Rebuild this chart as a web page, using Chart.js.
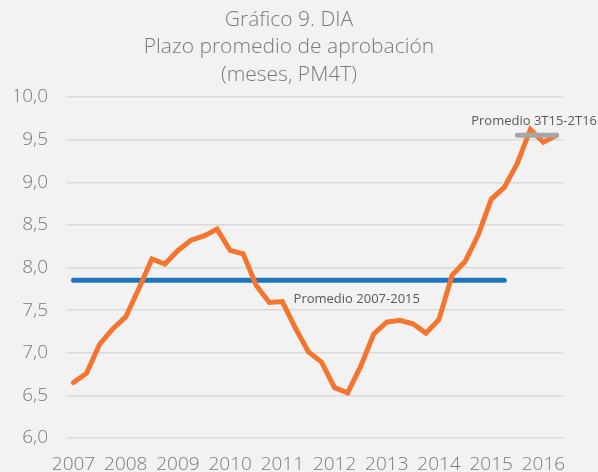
<!DOCTYPE html>
<html>
<head>
<meta charset="utf-8">
<script src="https://cdn.jsdelivr.net/npm/chart.js@4"></script>
<style>
  html, body { margin: 0; padding: 0; background: #f2f2f2; overflow: hidden; }
  #grafico { display: block; }
</style>
</head>
<body>
<canvas id="grafico" width="598" height="472"></canvas>
<script>
const TRIMESTRES = [
    '2007T1', '2007T2', '2007T3', '2007T4',
    '2008T1', '2008T2', '2008T3', '2008T4',
    '2009T1', '2009T2', '2009T3', '2009T4',
    '2010T1', '2010T2', '2010T3', '2010T4',
    '2011T1', '2011T2', '2011T3', '2011T4',
    '2012T1', '2012T2', '2012T3', '2012T4',
    '2013T1', '2013T2', '2013T3', '2013T4',
    '2014T1', '2014T2', '2014T3', '2014T4',
    '2015T1', '2015T2', '2015T3', '2015T4',
    '2016T1', '2016T2'
];

// plazo promedio de aprobación, meses (PM4T)
const PLAZO_PROMEDIO = [
    6.65, 6.76, 7.10, 7.28,
    7.42, 7.75, 8.10, 8.04,
    8.20, 8.32, 8.37, 8.45,
    8.20, 8.16, 7.79, 7.59,
    7.60, 7.29, 7.01, 6.89,
    6.59, 6.53, 6.84, 7.22,
    7.36, 7.38, 7.34, 7.23,
    7.39, 7.91, 8.07, 8.38,
    8.80, 8.94, 9.22, 9.62,
    9.47, 9.55
];

const PROMEDIO_2007_2015 = 7.85;
const TRAMO_2007_2015 = ['2007T1', '2015T2'];
const PROMEDIO_3T15_2T16 = 9.55;
const TRAMO_3T15_2T16 = ['2015T3', '2016T2'];

const Y_MIN = 6;
const Y_MAX = 10;
const Y_PASO = 0.5;

const TITULO = ['Gráfico 9. DIA', 'Plazo promedio de aprobación', '(meses, PM4T)'];

const COLOR_TEXTO = '#7a7a7a';
const COLOR_ETIQUETA = '#595959';

// etiquetas de los promedios, ubicadas con las escalas
const etiquetasPromedio = {
    id: 'etiquetasPromedio',
    afterDatasetsDraw(chart) {
        const { ctx, scales: { x, y } } = chart;
        ctx.save();
        ctx.font = '13px "Open Sans"';
        ctx.fillStyle = COLOR_ETIQUETA;
        ctx.textBaseline = 'middle';

        ctx.textAlign = 'center';
        ctx.fillText('Promedio 2007-2015', x.getPixelForValue(21.7), y.getPixelForValue(PROMEDIO_2007_2015) + 19);

        ctx.textAlign = 'right';
        ctx.fillText('Promedio 3T15-2T16', chart.width - 1, y.getPixelForValue(PROMEDIO_3T15_2T16) - 14);
        ctx.restore();
    }
};

new Chart(document.getElementById('grafico'), {
    type: 'line',
    data: {
        labels: TRIMESTRES,
        datasets: [
            {
                data: PLAZO_PROMEDIO,
                borderColor: '#f4762e',
                borderWidth: 5,
                pointRadius: 0,
                tension: 0,
                borderCapStyle: 'round',
                order: 1
            },
            {
                data: TRAMO_2007_2015.map(t => ({ x: t, y: PROMEDIO_2007_2015 })),
                borderColor: '#1f74c0',
                borderWidth: 5,
                pointRadius: 0,
                borderCapStyle: 'round',
                order: 2
            },
            {
                data: TRAMO_3T15_2T16.map(t => ({ x: t, y: PROMEDIO_3T15_2T16 })),
                borderColor: '#a6a6a6',
                borderWidth: 5,
                pointRadius: 0,
                borderCapStyle: 'round',
                order: 0
            }
        ]
    },
    options: {
        responsive: false,
        animation: false,
        layout: { padding: { left: 15, right: 35, top: 0, bottom: 0 } },
        plugins: {
            legend: { display: false },
            tooltip: { enabled: false },
            title: {
                display: true,
                text: TITULO,
                color: COLOR_TEXTO,
                font: { family: 'Open Sans', size: 21, weight: 300, lineHeight: '27.5px' },
                padding: { top: 6, bottom: 8.5 }
            }
        },
        scales: {
            x: {
                type: 'category',
                offset: true,
                grid: { display: false },
                border: { display: false },
                afterFit: s => { s.height = 34; },
                ticks: {
                    autoSkip: false,
                    maxRotation: 0,
                    padding: 7,
                    color: COLOR_TEXTO,
                    font: { family: 'Open Sans', size: 19, weight: 300 },
                    callback: function (v) {
                        const t = this.getLabelForValue(v);
                        return t.endsWith('T1') ? t.slice(0, 4) : '';
                    }
                }
            },
            y: {
                min: Y_MIN,
                max: Y_MAX,
                afterFit: s => { s.width = 52; },
                grid: { color: '#d9d9d9', lineWidth: 1.5, drawTicks: false },
                border: { display: false },
                ticks: {
                    stepSize: Y_PASO,
                    padding: 19,
                    color: COLOR_TEXTO,
                    font: { family: 'Open Sans', size: 19, weight: 300 },
                    callback: v => v.toFixed(1).replace('.', ',')
                }
            }
        }
    },
    plugins: [etiquetasPromedio]
});
</script>
</body>
</html>
